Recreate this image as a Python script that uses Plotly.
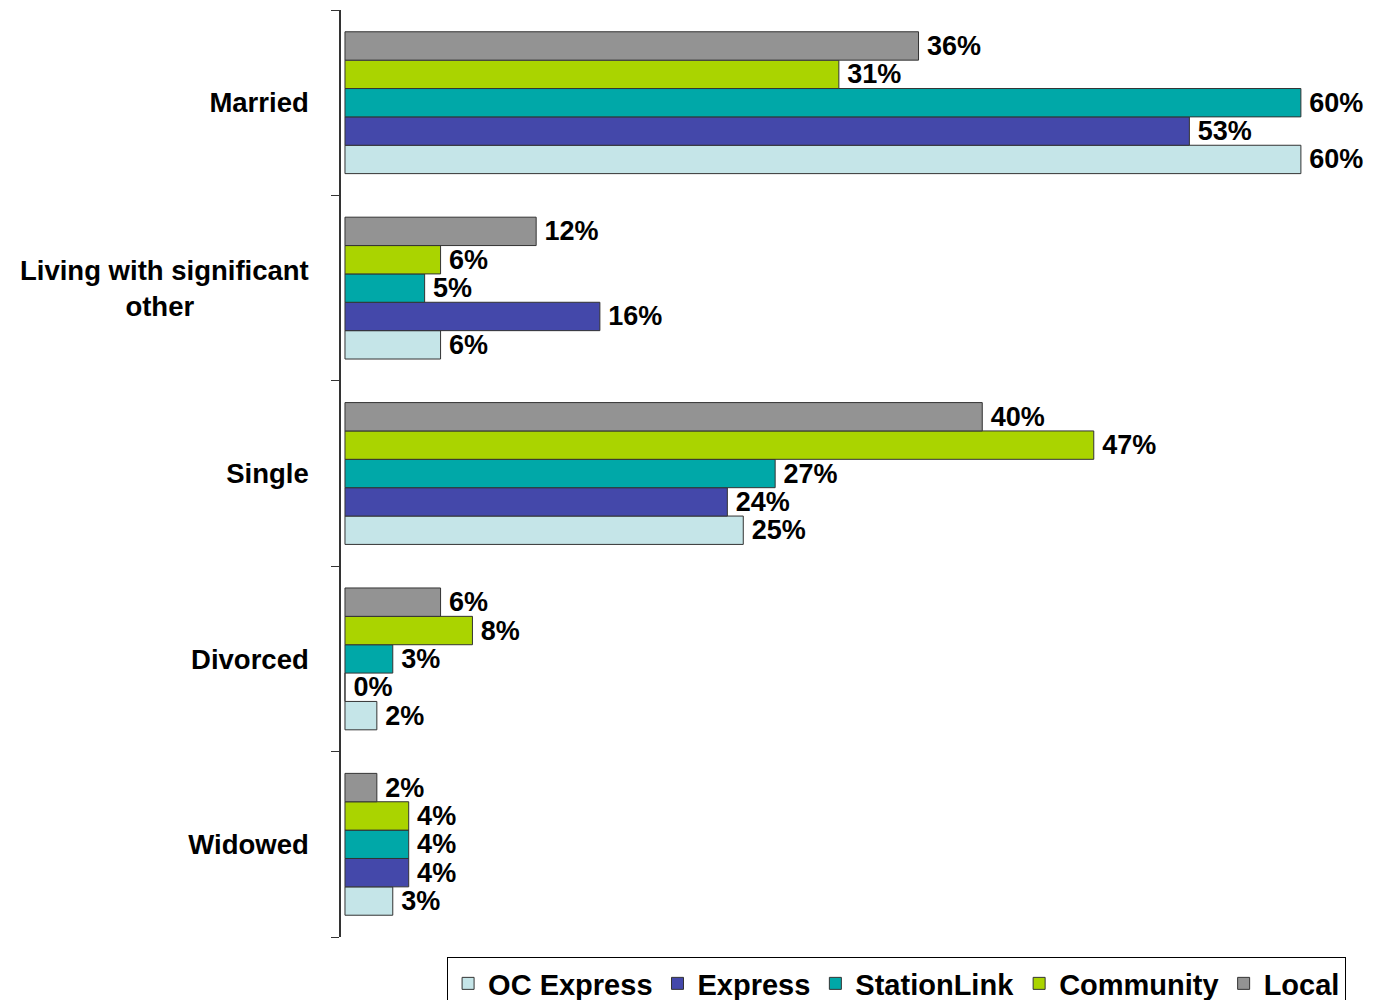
import plotly.graph_objects as go

categories = ["Married", "Living with significant<br>other" + "\u00a0" * 15, "Single", "Divorced", "Widowed"]
series_names = ["OC Express", "Express", "StationLink", "Community", "Local"]
oc_express = [60, 6, 25, 2, 3]
express = [53, 16, 24, 0, 4]
stationlink = [60, 5, 27, 3, 4]
community = [31, 6, 47, 8, 4]
local = [36, 12, 40, 6, 2]
colors = ["#C5E5E8", "#4448AA", "#00A8A8", "#AAD400", "#939393"]

values = [oc_express, express, stationlink, community, local]

FONT = "Liberation Sans, Arial, sans-serif"

fig = go.Figure()
for name, vals, col in zip(series_names, values, colors):
    fig.add_trace(go.Bar(
        y=categories, x=vals, name=name, orientation="h",
        marker=dict(color=col, line=dict(color="#333333", width=1)),
        text=[f"{v}%" for v in vals],
        texttemplate="\u2009%{text}",
        textposition="outside",
        textfont=dict(family=FONT, size=27, color="black", weight="bold"),
        constraintext="none",
        cliponaxis=False,
    ))

fig.update_layout(
    width=1366, height=992,
    margin=dict(l=333, r=3, t=2, b=63, autoexpand=False),
    barmode="group", bargap=0.235, bargroupgap=0,
    plot_bgcolor="white", paper_bgcolor="white",
    font=dict(family=FONT, color="black"),
    showlegend=True,
    legend=dict(
        orientation="h", x=0.103, y=-0.0216, xanchor="left", yanchor="top",
        font=dict(family=FONT, size=29, color="black", weight="bold"),
        bordercolor="black", borderwidth=1, bgcolor="white",
        traceorder="normal",
    ),
    uniformtext=dict(mode=False),
)
fig.update_xaxes(range=[-0.25, 64.4], visible=False, showgrid=False, zeroline=False)
fig.update_yaxes(
    type="category", automargin=False,
    categoryorder="array", categoryarray=categories[::-1],
    tickson="boundaries", ticks="outside", ticklen=8, tickcolor="#333333",
    showline=True, linecolor="#333333", linewidth=1.5,
    showgrid=False, zeroline=False,
    tickfont=dict(family=FONT, size=27.5, color="black", weight="bold"),
    ticklabelstandoff=25,
)

fig.write_html("out.html")
